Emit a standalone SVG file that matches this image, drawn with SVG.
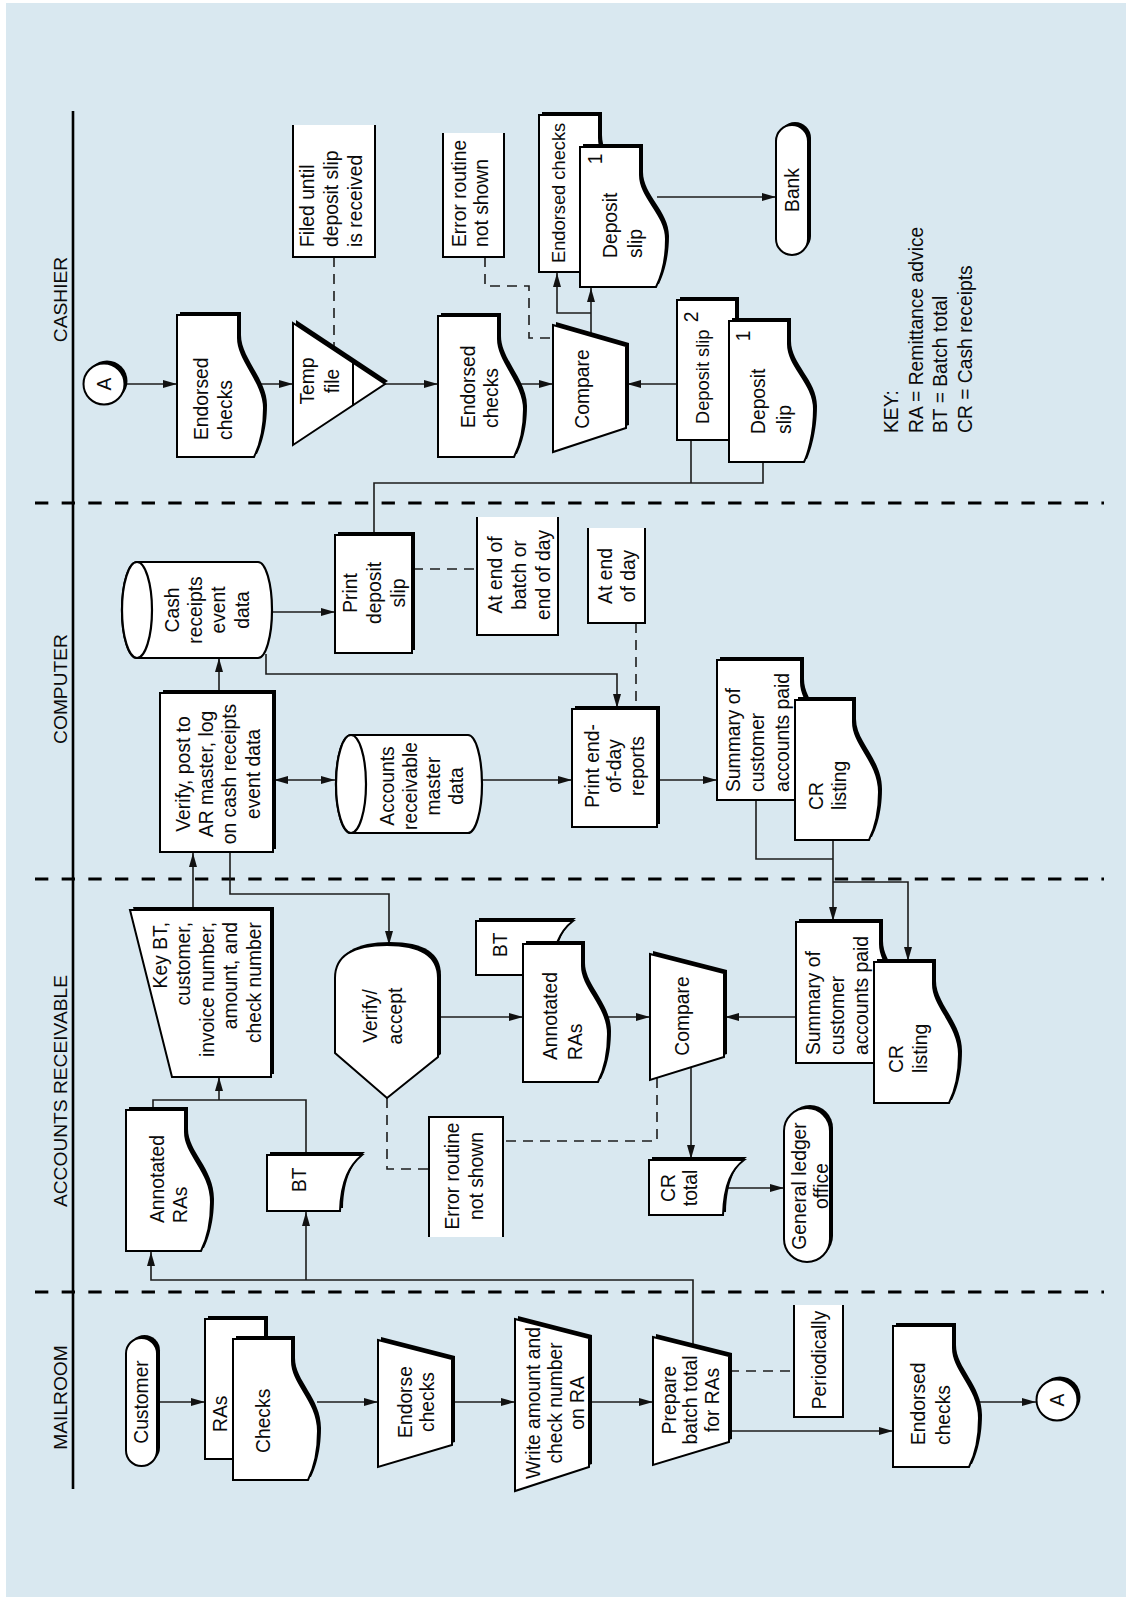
<svg xmlns="http://www.w3.org/2000/svg" width="1126" height="1597" viewBox="0 0 1126 1597">
<defs>
<style>
.sh{fill:#000}
.nd{fill:#fff;stroke:#000;stroke-width:2}
.dk{fill:#fff;stroke:#000;stroke-width:2.2}
.an{fill:none;stroke:#000;stroke-width:2}
.ab{fill:#fff}
.cn{fill:none;stroke:#1c1c1c;stroke-width:1.6}
.da{stroke-dasharray:10 7}
.ar{marker-end:url(#ah)}
.lane{fill:none;stroke:#000;stroke-width:3;stroke-dasharray:13.33 13.33}
text{font-family:"Liberation Sans",Arial,Helvetica,sans-serif;font-size:19.3px;fill:#0a0a0a}
.lb{font-size:19.2px}
.sm{font-size:18.3px}
</style>
<marker id="ah" viewBox="0 0 14 8" refX="14" refY="4" markerWidth="14" markerHeight="8" markerUnits="userSpaceOnUse" orient="auto-start-reverse"><path d="M0,0 L14,4 L0,8 Z" fill="#111"/></marker>
<path id="s-endc1" d="M177,315 H238 V338 C238,361 264,382 264,408 C264,434 257,451 254,457 H177 Z"/>
<path id="s-temp" d="M293,323 L385,384 L293,445 Z"/>
<path id="s-endc2" d="M438,316 H498 V339 C498,362 524,383 524,409 C524,435 517,451 514,457 H438 Z"/>
<path id="s-cmp1" d="M553,325 L626,346 L626,428 L553,452 Z"/>
<path id="s-ecb" d="M539,115 H599 V138 C599,162 625,187 625,218 C625,246 618,266 615,272 H539 Z"/>
<path id="s-dsf" d="M580,147 H640 V175 C640,198 666,214 666,239 C666,264 659,281 656,287 H580 Z"/>
<rect id="s-bank" x="776" y="125" width="32" height="130" rx="16"/>
<path id="s-dsb" d="M677,300 H736 V323 C736,345 762,362 762,392 C762,418 755,434 752,440 H677 Z"/>
<path id="s-dsf2" d="M729,321 H788 V344 C788,367 814,383 814,409 C814,435 807,456 804,462 H729 Z"/>
<circle id="s-a1" cx="104" cy="384" r="20.5"/>
<rect id="s-pds" x="335" y="535" width="77" height="118"/>
<rect id="s-ver" x="160" y="693" width="113" height="159"/>
<rect id="s-ped" x="572" y="709" width="85" height="118"/>
<path id="s-sum1" d="M717,660 H801 V682 C801,705 827,722 827,752 C827,778 820,794 817,800 H717 Z"/>
<path id="s-crl1" d="M795,700 H853 V722 C853,745 879,762 879,792 C879,818 872,834 869,840 H795 Z"/>
<path id="s-key" d="M130,910 L271,910 L271,1077 L172,1077 Z"/>
<path id="s-ara" d="M126,1110 H185 V1132 C185,1155 211,1171 211,1202 C211,1228 204,1245 201,1251 H126 Z"/>
<path id="s-bt1" d="M267,1155 H362 C350,1165 341,1180 340,1211 H267 Z"/>
<path id="s-va" d="M335,1053 V978 Q335,945 387,945 Q438,945 438,978 V1057 L387,1098 Z"/>
<path id="s-bt2" d="M476,921 H573 C561,930 552,945 551,975 H476 Z"/>
<path id="s-ara2" d="M523,944 H582 V966 C582,988 608,1006 608,1034 C608,1060 601,1076 598,1082 H523 Z"/>
<path id="s-cmp2" d="M650,954 L724,973 L724,1057 L650,1080 Z"/>
<path id="s-crt" d="M649,1160 H744 C732,1169 724,1184 723,1215 H649 Z"/>
<rect id="s-glo" x="784" y="1108" width="46" height="154" rx="23"/>
<path id="s-sum2" d="M796,922 H880 V944 C880,967 906,985 906,1014 C906,1040 899,1057 896,1063 H796 Z"/>
<path id="s-crl2" d="M874,962 H933 V984 C933,1007 959,1025 959,1054 C959,1080 952,1097 949,1103 H874 Z"/>
<rect id="s-cus" x="126" y="1338" width="31" height="128" rx="15.5"/>
<path id="s-ras" d="M205,1319 H265 V1341 C265,1364 291,1381 291,1411 C291,1437 284,1453 281,1459 H205 Z"/>
<path id="s-chk" d="M233,1339 H292 V1361 C292,1384 318,1401 318,1431 C318,1457 311,1474 308,1480 H233 Z"/>
<path id="s-end" d="M378,1340 L452,1359 L452,1445 L378,1467 Z"/>
<path id="s-wri" d="M515,1319 L589,1338 L589,1467 L515,1491 Z"/>
<path id="s-pre" d="M653,1337 L729,1356 L729,1442 L653,1465 Z"/>
<path id="s-endm" d="M893,1326 H953 V1348 C953,1371 979,1388 979,1418 C979,1444 972,1461 969,1467 H893 Z"/>
<circle id="s-a2" cx="1057" cy="1400" r="20.5"/>
</defs>

<rect x="6" y="3" width="1120" height="1594" fill="#d9e8f0"/>

<g id="lanes">
<path d="M73,111 V1489" fill="none" stroke="#000" stroke-width="2.6"/>
<path class="lane" d="M35,503 H1104"/>
<path class="lane" d="M35,879 H1104"/>
<path class="lane" d="M35,1292 H1104"/>
<text class="lb" text-anchor="middle" transform="translate(67,299.5) rotate(-90)">CASHIER</text>
<text class="lb" text-anchor="middle" transform="translate(67,689) rotate(-90)">COMPUTER</text>
<text class="lb" text-anchor="middle" transform="translate(67,1091) rotate(-90)">ACCOUNTS RECEIVABLE</text>
<text class="lb" text-anchor="middle" transform="translate(67,1397.5) rotate(-90)">MAILROOM</text>
</g>

<g id="connectors">
<path class="cn ar" d="M125,384 H177"/>
<path class="cn ar" d="M256,384 H293"/>
<path class="cn ar" d="M385,384 H438"/>
<path class="cn ar" d="M518,384 H553"/>
<path class="cn ar" d="M677,384 H627"/>
<path class="cn ar" d="M591,336 V288"/>
<path class="cn ar" d="M591,313 H557 V273"/>
<path class="cn ar" d="M657,197 H776"/>
<path class="cn da" d="M334,257 V349"/>
<path class="cn da" d="M485,257 V286 H529 V338 H553"/>
<path class="cn" d="M691,440 V483 M763,462 V483 H374 V535"/>
<path class="cn ar" d="M272,612 H335"/>
<path class="cn ar" d="M266,654 V674 H617 V708"/>
<path class="cn ar" d="M219,693 V658"/>
<path class="cn da" d="M413,569 H477"/>
<path class="cn da" d="M636,623 V708"/>
<path class="cn ar" style="marker-start:url(#ah)" d="M274,780 H335"/>
<path class="cn ar" d="M482,780 H572"/>
<path class="cn ar" d="M658,780 H717"/>
<path class="cn ar" d="M833,838 V921"/>
<path class="cn" d="M756,800 V859 H833"/>
<path class="cn ar" d="M833,882 H908 V961"/>
<path class="cn ar" d="M193,910 V853"/>
<path class="cn ar" d="M230,852 V894 H389 V945"/>
<path class="cn" d="M153,1110 V1100 H306 V1155"/>
<path class="cn ar" d="M219,1100 V1077"/>
<path class="cn ar" d="M693,1346 V1280 H151 V1252"/>
<path class="cn ar" d="M306,1280 V1212"/>
<path class="cn ar" d="M438,1017 H523"/>
<path class="cn ar" d="M605,1017 H650"/>
<path class="cn ar" d="M796,1017 H725"/>
<path class="cn ar" d="M691,1068 V1159"/>
<path class="cn ar" d="M726,1188 H784"/>
<path class="cn da" d="M387,1098 V1169 H429"/>
<path class="cn da" d="M657,1078 V1141 H503"/>
<path class="cn ar" d="M157,1402 H205"/>
<path class="cn ar" d="M317,1402 H378"/>
<path class="cn ar" d="M452,1402 H515"/>
<path class="cn ar" d="M589,1402 H653"/>
<path class="cn da" d="M729,1371 H794"/>
<path class="cn ar" d="M729,1431 H893"/>
<path class="cn ar" d="M978,1402 H1036"/>
</g>

<g id="n-a1"><use href="#s-a1" class="sh" transform="translate(3,-3)"/><use href="#s-a1" class="nd"/>
<text text-anchor="middle" transform="translate(111,384) rotate(-90)">A</text></g>

<g id="n-endorsed-cashier"><use href="#s-endc1" class="sh" transform="translate(3,-3)"/><use href="#s-endc1" class="nd"/>
<text transform="translate(207.5,440) rotate(-90)"><tspan x="0" y="0">Endorsed</tspan><tspan x="0" y="24">checks</tspan></text></g>

<g id="n-temp-file"><use href="#s-temp" class="sh" transform="translate(3,-3)"/><use href="#s-temp" class="nd"/>
<path class="an" d="M353,362 V406"/>
<text text-anchor="middle" transform="translate(313.5,381) rotate(-90)"><tspan x="0" y="0">Temp</tspan><tspan x="0" y="25">file</tspan></text></g>

<g id="n-filed-until"><rect class="ab" x="293" y="125" width="82" height="132"/><path class="an" d="M293,125 V257 H375 V125"/>
<text transform="translate(313.5,247) rotate(-90)"><tspan x="0" y="0">Filed until</tspan><tspan x="0" y="24">deposit slip</tspan><tspan x="0" y="48">is received</tspan></text></g>

<g id="n-endorsed-cashier2"><use href="#s-endc2" class="sh" transform="translate(3,-3)"/><use href="#s-endc2" class="nd"/>
<text transform="translate(474.5,428) rotate(-90)"><tspan x="0" y="0">Endorsed</tspan><tspan x="0" y="23">checks</tspan></text></g>

<g id="n-compare-cashier"><use href="#s-cmp1" class="sh" transform="translate(3,-3)"/><use href="#s-cmp1" class="nd"/>
<text text-anchor="middle" transform="translate(588.5,389) rotate(-90)">Compare</text></g>

<g id="n-error-cashier"><rect class="ab" x="443" y="133" width="61" height="124"/><path class="an" d="M443,133 V257 H504 V133"/>
<text transform="translate(466,247) rotate(-90)"><tspan x="0" y="0">Error routine</tspan><tspan x="0" y="22">not shown</tspan></text></g>

<g id="n-endorsed-deposit-top"><use href="#s-ecb" class="sh" transform="translate(3,-3)"/><use href="#s-ecb" class="nd"/>
<text class="sm" transform="translate(564.5,263) rotate(-90)">Endorsed checks</text>
<use href="#s-dsf" class="sh" transform="translate(3,-3)"/><use href="#s-dsf" class="nd"/>
<text text-anchor="middle" transform="translate(602,159) rotate(-90)">1</text>
<text transform="translate(616.5,258) rotate(-90)"><tspan x="0" y="0">Deposit</tspan><tspan x="0" y="25">slip</tspan></text></g>

<g id="n-bank"><use href="#s-bank" class="sh" transform="translate(3,-3)"/><use href="#s-bank" class="nd"/>
<text text-anchor="middle" transform="translate(799,190) rotate(-90)">Bank</text></g>

<g id="n-deposit-slips"><use href="#s-dsb" class="sh" transform="translate(3,-3)"/><use href="#s-dsb" class="nd"/>
<text text-anchor="middle" transform="translate(698,317) rotate(-90)">2</text>
<text class="sm" transform="translate(709,424) rotate(-90)">Deposit slip</text>
<use href="#s-dsf2" class="sh" transform="translate(3,-3)"/><use href="#s-dsf2" class="nd"/>
<text text-anchor="middle" transform="translate(750,336) rotate(-90)">1</text>
<text transform="translate(764.5,434) rotate(-90)"><tspan x="0" y="0">Deposit</tspan><tspan x="0" y="26">slip</tspan></text></g>

<g id="key">
<text transform="translate(898,433) rotate(-90)"><tspan x="0" y="0">KEY:</tspan><tspan x="0" y="24.7">RA = Remittance advice</tspan><tspan x="0" y="49.4">BT = Batch total</tspan><tspan x="0" y="74.1">CR = Cash receipts</tspan></text>
</g>

<g id="n-cash-receipts-data"><path class="dk" d="M137,562 H258 A14,48 0 0 1 258,658 H137 A15,48 0 0 1 137,562 Z"/><ellipse class="dk" cx="137" cy="610" rx="15" ry="48"/>
<text text-anchor="middle" transform="translate(178.5,610) rotate(-90)"><tspan x="0" y="0">Cash</tspan><tspan x="0" y="23.4">receipts</tspan><tspan x="0" y="46.8">event</tspan><tspan x="0" y="70.2">data</tspan></text></g>

<g id="n-print-deposit"><use href="#s-pds" class="sh" transform="translate(3,-3)"/><use href="#s-pds" class="nd"/>
<text text-anchor="middle" transform="translate(356.5,593) rotate(-90)"><tspan x="0" y="0">Print</tspan><tspan x="0" y="24">deposit</tspan><tspan x="0" y="48">slip</tspan></text></g>

<g id="n-end-batch"><rect class="ab" x="477" y="517" width="81" height="118"/><path class="an" d="M477,517 V635 H558 V517"/>
<text text-anchor="middle" transform="translate(501.5,575) rotate(-90)"><tspan x="0" y="0">At end of</tspan><tspan x="0" y="24">batch or</tspan><tspan x="0" y="48">end of day</tspan></text></g>

<g id="n-end-day"><rect class="ab" x="588" y="528" width="57" height="95"/><path class="an" d="M588,528 V623 H645 V528"/>
<text text-anchor="middle" transform="translate(611.5,576) rotate(-90)"><tspan x="0" y="0">At end</tspan><tspan x="0" y="23">of day</tspan></text></g>

<g id="n-verify-post"><use href="#s-ver" class="sh" transform="translate(3,-3)"/><use href="#s-ver" class="nd"/>
<text text-anchor="middle" transform="translate(189.5,774) rotate(-90)"><tspan x="0" y="0">Verify, post to</tspan><tspan x="0" y="23.4">AR master, log</tspan><tspan x="0" y="46.8">on cash receipts</tspan><tspan x="0" y="70.2">event data</tspan></text></g>

<g id="n-ar-master"><path class="dk" d="M351,735 H468 A14,49 0 0 1 468,833 H351 A15,49 0 0 1 351,735 Z"/><ellipse class="dk" cx="351" cy="784" rx="15" ry="49"/>
<text text-anchor="middle" transform="translate(393.5,786) rotate(-90)"><tspan x="0" y="0">Accounts</tspan><tspan x="0" y="23">receivable</tspan><tspan x="0" y="46">master</tspan><tspan x="0" y="69">data</tspan></text></g>

<g id="n-print-eod"><use href="#s-ped" class="sh" transform="translate(3,-3)"/><use href="#s-ped" class="nd"/>
<text text-anchor="middle" transform="translate(598.5,766) rotate(-90)"><tspan x="0" y="0">Print end-</tspan><tspan x="0" y="22.5">of-day</tspan><tspan x="0" y="45">reports</tspan></text></g>

<g id="n-summary-cr-computer"><use href="#s-sum1" class="sh" transform="translate(3,-3)"/><use href="#s-sum1" class="nd"/>
<text transform="translate(739.5,792) rotate(-90)"><tspan x="0" y="0">Summary of</tspan><tspan x="0" y="24.5">customer</tspan><tspan x="0" y="49">accounts paid</tspan></text>
<use href="#s-crl1" class="sh" transform="translate(3,-3)"/><use href="#s-crl1" class="nd"/>
<text transform="translate(822.5,810) rotate(-90)"><tspan x="0" y="0">CR</tspan><tspan x="0" y="23">listing</tspan></text></g>

<g id="n-key-bt"><use href="#s-key" class="sh" transform="translate(3,-3)"/><use href="#s-key" class="nd"/>
<text text-anchor="end" transform="translate(166.5,922) rotate(-90)"><tspan x="0" y="0">Key BT,</tspan><tspan x="0" y="23.6">customer,</tspan><tspan x="0" y="47.2">invoice number,</tspan><tspan x="0" y="70.8">amount, and</tspan><tspan x="0" y="94.4">check number</tspan></text></g>

<g id="n-annotated-ras-1"><use href="#s-ara" class="sh" transform="translate(3,-3)"/><use href="#s-ara" class="nd"/>
<text transform="translate(163.5,1223) rotate(-90)"><tspan x="0" y="0">Annotated</tspan><tspan x="0" y="23">RAs</tspan></text></g>

<g id="n-bt-1"><use href="#s-bt1" class="sh" transform="translate(3,-3)"/><use href="#s-bt1" class="nd"/>
<text transform="translate(306,1192) rotate(-90)">BT</text></g>

<g id="n-verify-accept"><use href="#s-va" class="sh" transform="translate(3,-3)"/><use href="#s-va" class="nd"/>
<text text-anchor="middle" transform="translate(377,1016) rotate(-90)"><tspan x="0" y="0">Verify/</tspan><tspan x="0" y="25">accept</tspan></text></g>

<g id="n-bt-annotated-2"><use href="#s-bt2" class="sh" transform="translate(3,-3)"/><use href="#s-bt2" class="nd"/>
<text transform="translate(507,957) rotate(-90)">BT</text>
<use href="#s-ara2" class="sh" transform="translate(3,-3)"/><use href="#s-ara2" class="nd"/>
<text transform="translate(556.5,1060) rotate(-90)"><tspan x="0" y="0">Annotated</tspan><tspan x="0" y="25">RAs</tspan></text></g>

<g id="n-compare-ar"><use href="#s-cmp2" class="sh" transform="translate(3,-3)"/><use href="#s-cmp2" class="nd"/>
<text text-anchor="middle" transform="translate(688.5,1016) rotate(-90)">Compare</text></g>

<g id="n-error-ar"><rect class="ab" x="429" y="1117" width="74" height="120"/><path class="an" d="M429,1237 V1117 H503 V1237"/>
<text text-anchor="middle" transform="translate(459,1176) rotate(-90)"><tspan x="0" y="0">Error routine</tspan><tspan x="0" y="24">not shown</tspan></text></g>

<g id="n-cr-total"><use href="#s-crt" class="sh" transform="translate(3,-3)"/><use href="#s-crt" class="nd"/>
<text text-anchor="middle" transform="translate(674.5,1188) rotate(-90)"><tspan x="0" y="0">CR</tspan><tspan x="0" y="22">total</tspan></text></g>

<g id="n-gl-office"><use href="#s-glo" class="sh" transform="translate(3,-3)"/><use href="#s-glo" class="nd"/>
<text text-anchor="middle" transform="translate(805.5,1186) rotate(-90)"><tspan x="0" y="0">General ledger</tspan><tspan x="0" y="22">office</tspan></text></g>

<g id="n-summary-cr-ar"><use href="#s-sum2" class="sh" transform="translate(3,-3)"/><use href="#s-sum2" class="nd"/>
<text transform="translate(819.5,1055) rotate(-90)"><tspan x="0" y="0">Summary of</tspan><tspan x="0" y="24">customer</tspan><tspan x="0" y="48">accounts paid</tspan></text>
<use href="#s-crl2" class="sh" transform="translate(3,-3)"/><use href="#s-crl2" class="nd"/>
<text transform="translate(902.5,1073) rotate(-90)"><tspan x="0" y="0">CR</tspan><tspan x="0" y="24">listing</tspan></text></g>

<g id="n-customer"><use href="#s-cus" class="sh" transform="translate(3,-3)"/><use href="#s-cus" class="nd"/>
<text text-anchor="middle" transform="translate(148,1402) rotate(-90)">Customer</text></g>

<g id="n-ras-checks"><use href="#s-ras" class="sh" transform="translate(3,-3)"/><use href="#s-ras" class="nd"/>
<text transform="translate(227,1432) rotate(-90)">RAs</text>
<use href="#s-chk" class="sh" transform="translate(3,-3)"/><use href="#s-chk" class="nd"/>
<text transform="translate(270,1453) rotate(-90)">Checks</text></g>

<g id="n-endorse"><use href="#s-end" class="sh" transform="translate(3,-3)"/><use href="#s-end" class="nd"/>
<text text-anchor="middle" transform="translate(411.5,1402) rotate(-90)"><tspan x="0" y="0">Endorse</tspan><tspan x="0" y="22">checks</tspan></text></g>

<g id="n-write"><use href="#s-wri" class="sh" transform="translate(3,-3)"/><use href="#s-wri" class="nd"/>
<text text-anchor="middle" transform="translate(539.5,1403) rotate(-90)"><tspan x="0" y="0">Write amount and</tspan><tspan x="0" y="22">check number</tspan><tspan x="0" y="44">on RA</tspan></text></g>

<g id="n-prepare"><use href="#s-pre" class="sh" transform="translate(3,-3)"/><use href="#s-pre" class="nd"/>
<text text-anchor="middle" transform="translate(675.5,1400) rotate(-90)"><tspan x="0" y="0">Prepare</tspan><tspan x="0" y="21.5">batch total</tspan><tspan x="0" y="43">for RAs</tspan></text></g>

<g id="n-periodically"><rect class="ab" x="794" y="1305" width="49" height="112"/><path class="an" d="M794,1305 V1417 H843 V1305"/>
<text text-anchor="middle" transform="translate(825.5,1360) rotate(-90)">Periodically</text></g>

<g id="n-endorsed-mail"><use href="#s-endm" class="sh" transform="translate(3,-3)"/><use href="#s-endm" class="nd"/>
<text transform="translate(924.5,1445) rotate(-90)"><tspan x="0" y="0">Endorsed</tspan><tspan x="0" y="25">checks</tspan></text></g>

<g id="n-a2"><use href="#s-a2" class="sh" transform="translate(3,-3)"/><use href="#s-a2" class="nd"/>
<text text-anchor="middle" transform="translate(1064,1400) rotate(-90)">A</text></g>
</svg>
